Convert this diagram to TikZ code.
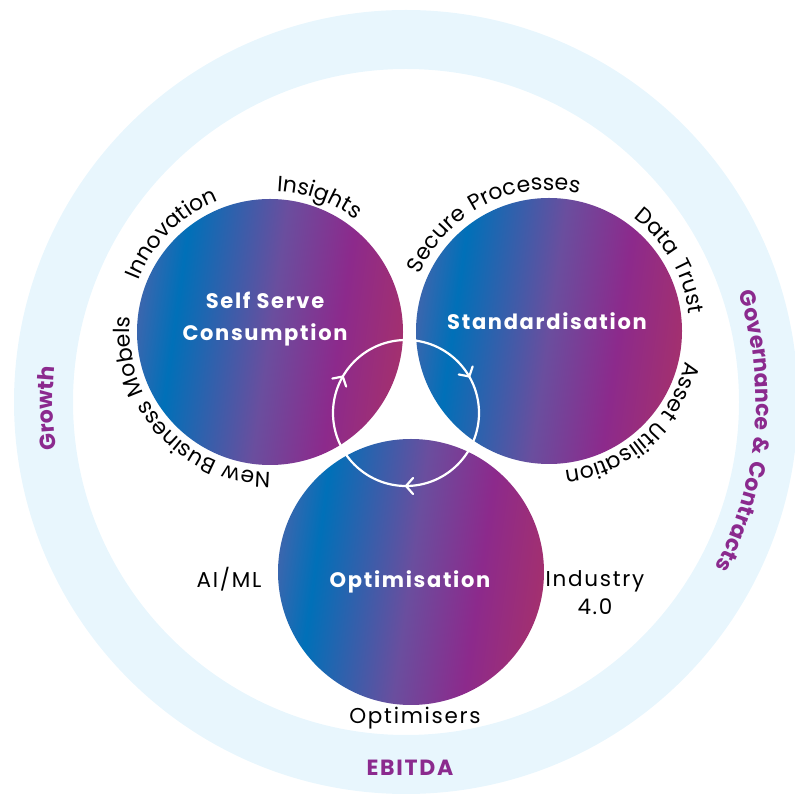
\documentclass[tikz,border=0pt]{standalone}
\usepackage{fontspec}
\setmainfont{Poppins}[LetterSpace=8]
\usetikzlibrary{decorations.text,decorations.markings}
\definecolor{ringblue}{HTML}{E8F6FD}
\definecolor{labpurple}{HTML}{8B2A8E}
\definecolor{ga}{HTML}{3A66AE}
\definecolor{gb}{HTML}{0070B8}
\definecolor{gc}{HTML}{6A4E9E}
\definecolor{gd}{HTML}{8C2A8C}
\definecolor{ge}{HTML}{A3306F}
\pgfdeclarehorizontalshading{orb}{100bp}{color(0bp)=(ga); color(25bp)=(ga); color(32bp)=(gb); color(50bp)=(gc); color(63bp)=(gd); color(75bp)=(ge); color(100bp)=(ge)}
\newcommand\curvefont{\fontsize{22}{26}\selectfont}
\newcommand\purplefont{\fontsize{22}{26}\selectfont\bfseries}
\newcommand\whitefont{\fontsize{21}{32}\selectfont\bfseries}
\newcommand\blackfont{\fontsize{21.5}{28}\selectfont}
\newcommand\chevron{\draw[white, line width=2.2pt, line cap=round, line join=miter] (-7pt,8pt) -- (0pt,0pt) -- (-7pt,-8pt);}
\tikzset{
  orbcircle/.style={circle, minimum size=266pt, inner sep=0pt, shading=orb, shading angle=-8},
  curvedlab/.style={decorate, decoration={text along path, text={|\curvefont|#1}, text align=center}},
  ringlab/.style={decorate, decoration={text along path, text={|\purplefont\color{labpurple}|#1}, text align=center}},
  whitelab/.style={text=white, font=\whitefont, align=center, inner sep=0pt},
  blacklab/.style={text=black, font=\blackfont, align=center, inner sep=0pt},
  purplelab/.style={text=labpurple, font=\purplefont, inner sep=0pt},
  cyclestyle/.style={draw=white, line width=2.2pt,
    postaction={decorate, decoration={markings,
      mark=at position 0.1667 with {\chevron},
      mark=at position 0.5 with {\chevron},
      mark=at position 0.8333 with {\chevron}}}}
}
\begin{document}
\begin{tikzpicture}[x=1pt,y=1pt]
\useasboundingbox (0,0) rectangle (795,798);
% outer ring
\coordinate (ringc) at (406,396);
\fill[ringblue, even odd rule] (ringc) circle[radius=392pt] (ringc) circle[radius=333pt];
% three circles
\node[orbcircle] (self) at (270,466) {};
\node[orbcircle] (std) at (549,467) {};
\node[orbcircle] (opt) at (411,226) {};
% cycle
\coordinate (cyc) at (406,385);
\path[cyclestyle] (cyc) ++(90:73pt) arc[start angle=90, end angle=-270, radius=73pt];
% centre labels
\node[whitelab] (selflab) at (265,479) {Self Serve\\Consumption};
\node[whitelab] (stdlab) at (547,477) {Standardisation};
\node[whitelab] (optlab) at (410,216) {Optimisation};
% straight black labels
\node[blacklab] (aiml) at (229,219) {AI/ML};
\node[blacklab] (ind) at (595,205) {Industry\\4.0};
\node[blacklab] (optim) at (415,80) {Optimisers};
% curved labels, self serve
\path[curvedlab={Innovation}] (self) ++(195:141pt) arc[start angle=195, end angle=75, radius=141pt];
\path[curvedlab={Insights}] (self) ++(130:141pt) arc[start angle=130, end angle=10, radius=141pt];
\path[curvedlab={New Business Mobels}] (self) ++(292:140pt) arc[start angle=292, end angle=152, radius=140pt];
% curved labels, standardisation
\path[curvedlab={Secure Processes}] (std) ++(177:141pt) arc[start angle=177, end angle=57, radius=141pt];
\path[curvedlab={Data Trust}] (std) ++(90:141pt) arc[start angle=90, end angle=-30, radius=141pt];
\path[curvedlab={Asset Utilisation}] (std) ++(12:140pt) arc[start angle=12, end angle=-108, radius=140pt];
% ring labels
\path[ringlab={Growth}] (ringc) ++(221:353pt) arc[start angle=221, end angle=141, radius=353pt];
\path[ringlab={Governance {\&} Contracts}] (ringc) ++(35:350pt) arc[start angle=35, end angle=-45, radius=350pt];
\node[purplelab] (ebitda) at (410,30) {EBITDA};
\end{tikzpicture}
\end{document}
